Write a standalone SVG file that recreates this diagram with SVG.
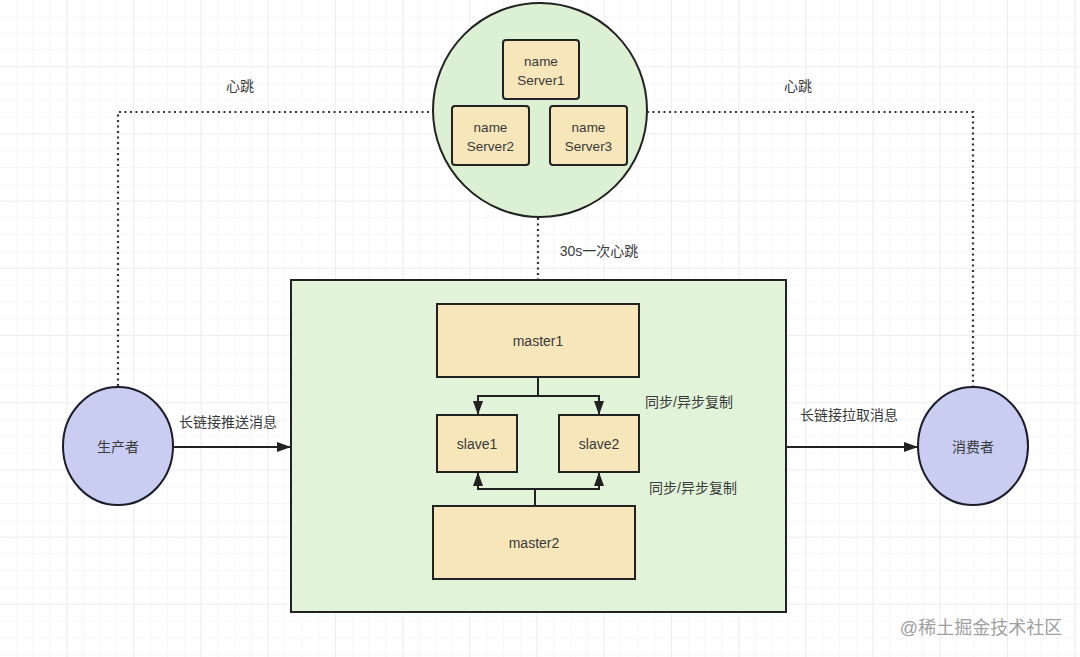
<svg xmlns="http://www.w3.org/2000/svg" width="1080" height="657" viewBox="0 0 1080 657">
<style>
.t{font-family:"Liberation Sans","Noto Sans CJK SC",sans-serif;fill:#3a3a3a;text-anchor:middle;dominant-baseline:central}
.box{fill:#f6e6b9;stroke:#222;stroke-width:2}
.ln{fill:none;stroke:#222;stroke-width:2}
.dot{fill:none;stroke:#333;stroke-width:2.2;stroke-dasharray:2 3.5}
</style>
<defs>
<pattern id="g1" width="16.8" height="16.8" patternUnits="userSpaceOnUse">
<path d="M16.8 0V16.8H0" fill="none" stroke="#efefef" stroke-width="1"/>
</pattern>
<pattern id="g2" width="67.2" height="67.2" patternUnits="userSpaceOnUse">
<path d="M67.2 0V67.2H0" fill="none" stroke="#e6e6e6" stroke-width="1.2"/>
</pattern>
<marker id="ah" viewBox="0 0 14 10" refX="13" refY="5" markerWidth="7" markerHeight="5" orient="auto" markerUnits="strokeWidth">
<path d="M0 0L14 5L0 10z" fill="#222"/>
</marker>
</defs>
<rect width="1080" height="657" fill="#fff"/>
<rect width="1080" height="657" fill="url(#g1)"/>
<rect width="1080" height="657" fill="url(#g2)"/>

<g id="connectors">
<path class="dot" d="M118 386V112H433"/>
<path class="dot" d="M647 112H973V386"/>
<path class="dot" d="M538 218V279"/>
<path class="ln" d="M174 447H290" marker-end="url(#ah)"/>
<path class="ln" d="M787 447H917" marker-end="url(#ah)"/>
</g>

<g id="nameservers">
<circle cx="540" cy="110" r="107" fill="#dcf0d3" stroke="#222" stroke-width="2"/>
</g>
<g id="ns1"><rect class="box" x="503" y="40" width="76" height="59" rx="3"/><text class="t" x="541" y="61" font-size="13.5">name</text><text class="t" x="541" y="80" font-size="13.5">Server1</text></g>
<g id="ns2"><rect class="box" x="452" y="106" width="77" height="59" rx="3"/><text class="t" x="490.5" y="127" font-size="13.5">name</text><text class="t" x="490.5" y="146" font-size="13.5">Server2</text></g>
<g id="ns3"><rect class="box" x="550" y="106" width="77" height="59" rx="3"/><text class="t" x="588.5" y="127" font-size="13.5">name</text><text class="t" x="588.5" y="146" font-size="13.5">Server3</text></g>

<g id="broker">
<rect x="291" y="280" width="495" height="332" fill="#e1f3d9" stroke="#222" stroke-width="2"/>
</g>
<g id="master1"><rect class="box" x="437" y="304" width="202" height="73"/><text class="t" x="538" y="341" font-size="14">master1</text></g>
<g id="slave1"><rect class="box" x="437" y="415" width="80" height="57"/><text class="t" x="477" y="444" font-size="14">slave1</text></g>
<g id="slave2"><rect class="box" x="559" y="415" width="80" height="57"/><text class="t" x="599" y="444" font-size="14">slave2</text></g>
<g id="master2"><rect class="box" x="433" y="506" width="202" height="73"/><text class="t" x="534" y="543" font-size="14">master2</text></g>

<g id="replication">
<path class="ln" d="M538 377V396H478V414" marker-end="url(#ah)"/>
<path class="ln" d="M538 396H599V414" marker-end="url(#ah)"/>
<path class="ln" d="M535 506V489H478V473" marker-end="url(#ah)"/>
<path class="ln" d="M535 489H599V473" marker-end="url(#ah)"/>
</g>

<g id="producer"><ellipse cx="118" cy="446" rx="55" ry="59" fill="#c9cdf2" stroke="#1c1c2a" stroke-width="2"/><text class="t" x="118" y="447" font-size="14">生产者</text></g>
<g id="consumer"><ellipse cx="973" cy="446" rx="55" ry="59" fill="#c9cdf2" stroke="#1c1c2a" stroke-width="2"/><text class="t" x="973" y="447" font-size="14">消费者</text></g>

<g id="labels">
<text class="t" x="240" y="86" font-size="14">心跳</text>
<text class="t" x="798" y="86" font-size="14">心跳</text>
<text class="t" x="599" y="251" font-size="14">30s一次心跳</text>
<text class="t" x="228" y="422" font-size="14">长链接推送消息</text>
<text class="t" x="849" y="415" font-size="14">长链接拉取消息</text>
<text class="t" x="689" y="402" font-size="14">同步/异步复制</text>
<text class="t" x="693" y="488" font-size="14">同步/异步复制</text>
<text class="t" x="981" y="628" font-size="18" style="fill:#a0a0a0">@稀土掘金技术社区</text>
</g>
</svg>
